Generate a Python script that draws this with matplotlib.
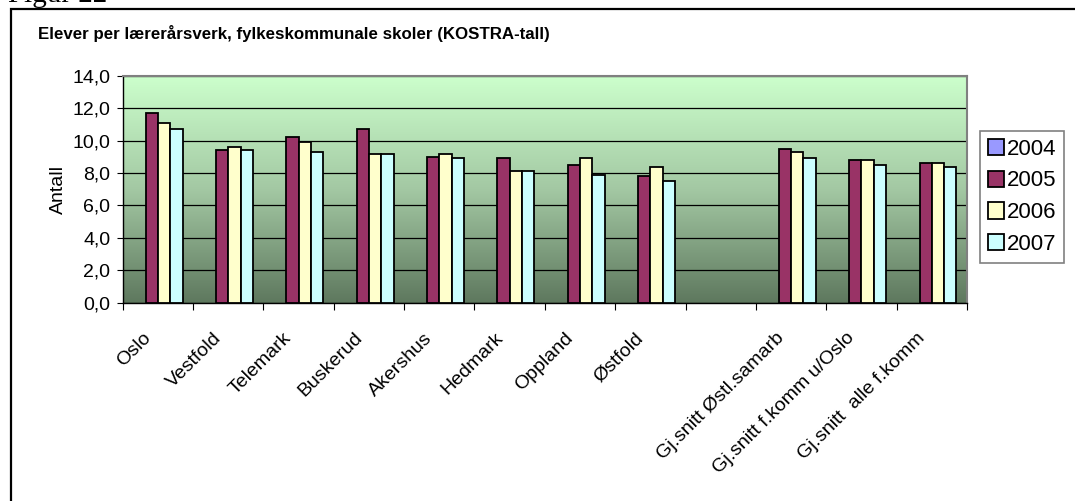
import numpy as np
import matplotlib
matplotlib.use("Agg")
import matplotlib.pyplot as plt
from matplotlib.colors import LinearSegmentedColormap
from matplotlib.patches import Rectangle

categories = ["Oslo", "Vestfold", "Telemark", "Buskerud", "Akershus", "Hedmark",
              "Oppland", "Østfold", "", "Gj.snitt Østl.samarb",
              "Gj.snitt f.komm u/Oslo", "Gj.snitt  alle f.komm"]
years = ["2004", "2005", "2006", "2007"]
nan = np.nan
v2004 = [nan] * 12
v2005 = [11.7, 9.4, 10.2, 10.7, 9.0, 8.9, 8.5, 7.8, nan, 9.5, 8.8, 8.6]
v2006 = [11.1, 9.6, 9.9, 9.2, 9.2, 8.1, 8.9, 8.4, nan, 9.3, 8.8, 8.6]
v2007 = [10.7, 9.4, 9.3, 9.2, 8.9, 8.1, 7.9, 7.5, nan, 8.9, 8.5, 8.4]
series = [v2004, v2005, v2006, v2007]
colors = ["#9999FF", "#993366", "#FFFFCC", "#CCFFFF"]

plt.rcParams['font.family'] = ['Liberation Sans', 'DejaVu Sans']

W, H = 1075, 501
fig = plt.figure(figsize=(W / 100, H / 100), dpi=100)
fig.patch.set_facecolor("white")

# plot area in pixels
L, R, T, B = 122.7, 967, 75.7, 302.7
ax = fig.add_axes([L / W, 1 - B / H, (R - L) / W, (B - T) / H])

# gradient background
cmap = LinearSegmentedColormap.from_list("bg", ["#5E785E", "#A3C8A3", "#CCFFCC"])
grad = np.linspace(0, 1, 256).reshape(-1, 1)
ax.imshow(grad, extent=[0, 1, 0, 1], transform=ax.transAxes, aspect="auto",
          cmap=cmap, origin="lower", zorder=0)

x = np.arange(len(categories))
bw = 0.175
for i, (vals, c, yr) in enumerate(zip(series, colors, years)):
    ax.bar(x + (i - 1.5) * bw + 0.5, vals, bw, color=c, edgecolor="black",
           linewidth=1.3, label=yr, zorder=3)

ax.set_xlim(0, len(categories))
ax.set_ylim(0, 14)
ax.set_yticks(np.arange(0, 15, 2))
ax.set_yticklabels([f"{v:.1f}".replace(".", ",") for v in np.arange(0, 15, 2)],
                   fontsize=14)
ax.set_xticks(np.arange(0, len(categories) + 1))
ax.set_xticklabels([])
ax.tick_params(axis="x", length=5, direction="out", color="black")
ax.tick_params(axis="y", length=4, direction="out", pad=5)
ax.yaxis.grid(True, color="black", linewidth=0.9, zorder=1)
ax.set_axisbelow(True)

for i, cat in enumerate(categories):
    ax.text(i + 0.5 - 0.22, -1.65, cat, rotation=45, ha="right", va="top",
            rotation_mode="anchor", fontsize=14)

for s in ["top", "right"]:
    ax.spines[s].set_color("#808080")
    ax.spines[s].set_linewidth(1.5)
for s in ["left", "bottom"]:
    ax.spines[s].set_color("black")
    ax.spines[s].set_linewidth(1.0)

ax.set_ylabel("Antall", fontsize=14, labelpad=4)

fig.text(38 / W, 1 - 39 / H, "Elever per lærerårsverk, fylkeskommunale skoler (KOSTRA-tall)",
         fontsize=12.2, fontweight="bold", va="baseline")

leg = fig.legend(loc="upper left", bbox_to_anchor=(980 / W, 1 - 131 / H),
                 fontsize=16, frameon=True, fancybox=False, framealpha=1,
                 edgecolor="#808080", handlelength=0.75, handleheight=0.75,
                 handletextpad=0.1, labelspacing=0.48, borderpad=0.35,
                 borderaxespad=0)
leg.get_frame().set_linewidth(1.2)

# outer frame and figure caption
fig.patches.append(Rectangle((11 / W, -0.05), 1.1, 1 - 9 / H + 0.05,
                             transform=fig.transFigure, fill=False,
                             edgecolor="black", linewidth=1.6))
fig.text(8 / W, 1 - 1.5 / H, "Figur 22", fontsize=21, family="Liberation Serif",
         va="baseline")

fig.savefig("out.png", dpi=100)
